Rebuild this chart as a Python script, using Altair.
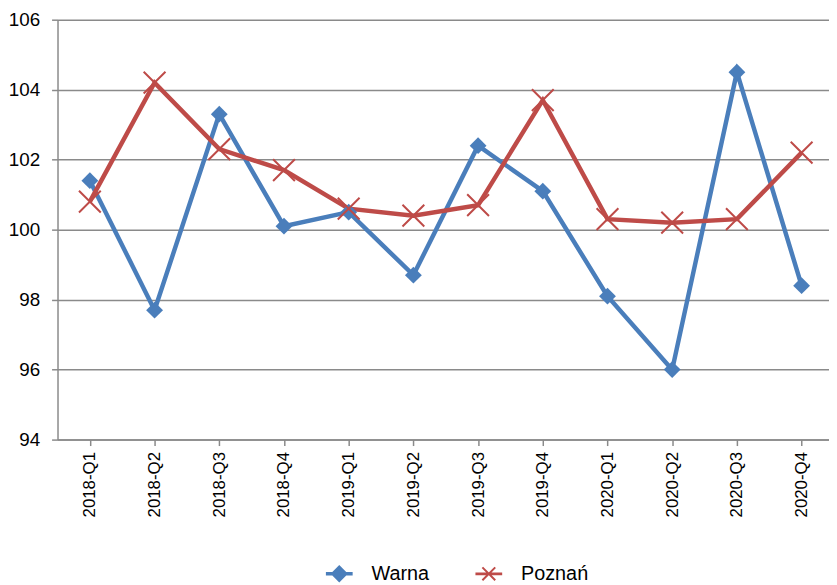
import altair as alt
import pandas as pd

quarters = ["2018-Q1", "2018-Q2", "2018-Q3", "2018-Q4",
            "2019-Q1", "2019-Q2", "2019-Q3", "2019-Q4",
            "2020-Q1", "2020-Q2", "2020-Q3", "2020-Q4"]
warna = [101.4, 97.7, 103.3, 100.1, 100.5, 98.7, 102.4, 101.1, 98.1, 96.0, 104.5, 98.4]
poznan = [100.8, 104.2, 102.3, 101.7, 100.6, 100.4, 100.7, 103.7, 100.3, 100.2, 100.3, 102.2]
series = ["Warna", "Poznań"]
colors = ["#4a7ebb", "#be4b48"]
y_ticks = [94, 96, 98, 100, 102, 104, 106]

df = pd.DataFrame({
    "quarter": quarters * 2,
    "value": warna + poznan,
    "series": [series[0]] * len(quarters) + [series[1]] * len(quarters),
})

FONT = "Liberation Sans"
GRID = "#8a8a8a"

x_enc = alt.X(
    "quarter:N", sort=quarters,
    scale=alt.Scale(type="point", padding=0.5, range=[0, 784]),
    axis=alt.Axis(title=None, labelAngle=-90, labelFontSize=17, labelPadding=6,
                  tickSize=6, grid=False, labelFont=FONT, labelColor="black",
                  domainColor=GRID, tickColor=GRID, domainWidth=1.5, tickWidth=1.5),
)
y_enc = alt.Y(
    "value:Q",
    scale=alt.Scale(domain=[94, 106], nice=False, zero=False),
    axis=alt.Axis(title=None, values=y_ticks, labelFontSize=19, labelPadding=12,
                  tickSize=6, grid=True, gridColor=GRID, gridWidth=1.5,
                  labelFont=FONT, labelColor="black", domainColor=GRID,
                  tickColor=GRID, domainWidth=1.5, tickWidth=1.5),
)

base = alt.Chart(df)

lines = base.mark_line(strokeWidth=4.5).encode(
    x=x_enc, y=y_enc,
    color=alt.Color("series:N", scale=alt.Scale(domain=series, range=colors), legend=None),
)

warna_pts = base.transform_filter(alt.datum.series == series[0]).mark_point(
    shape="diamond", filled=True, size=289, color=colors[0], opacity=1
).encode(x=x_enc, y=y_enc)

poznan_pts = base.transform_filter(alt.datum.series == series[1]).mark_point(
    shape="M-1,-1L1,1M-1,1L1,-1", filled=False, size=484, color=colors[1],
    strokeWidth=2, opacity=1
).encode(x=x_enc, y=y_enc)

# legend symbols: line segment with the series marker (filled outlines)
warna_sym = "M-1,-0.13L1,-0.13L1,0.13L-1,0.13Z M0,-0.65L0.65,0L0,0.65L-0.65,0Z"
poznan_sym = ("M-1,-0.1L1,-0.1L1,0.1L-1,0.1Z "
              "M-0.427,-0.533L0.533,0.427L0.427,0.533L-0.533,-0.427Z "
              "M-0.533,0.427L0.427,-0.533L0.533,-0.427L-0.427,0.533Z")


def legend_layer(name, color, sym, lx, ly):
    return base.transform_filter(alt.datum.series == name).mark_point(
        filled=True, opacity=0, shape=sym
    ).encode(
        x=x_enc, y=y_enc,
        fill=alt.Fill("series:N", title=None,
                      scale=alt.Scale(domain=[name], range=[color]),
                      legend=alt.Legend(
                          orient="none", legendX=lx, legendY=ly,
                          labelFontSize=20, labelFont=FONT, labelColor="black",
                          symbolSize=729, symbolType=sym, labelOffset=19,
                          symbolStrokeWidth=0, symbolOpacity=1,
                      )),
    )


leg_w = legend_layer(series[0], colors[0], warna_sym, 271, 546)
leg_p = legend_layer(series[1], colors[1], poznan_sym, 422, 546)

chart = alt.layer(lines, warna_pts, poznan_pts, leg_w, leg_p).resolve_scale(
    fill="independent"
).properties(
    width=779, height=424,
    padding={"left": 50, "top": 9, "right": 0, "bottom": 143},
    autosize="none",
).configure_view(stroke=None)

chart.save("out.html", embed_options={"renderer": "svg", "actions": False})
